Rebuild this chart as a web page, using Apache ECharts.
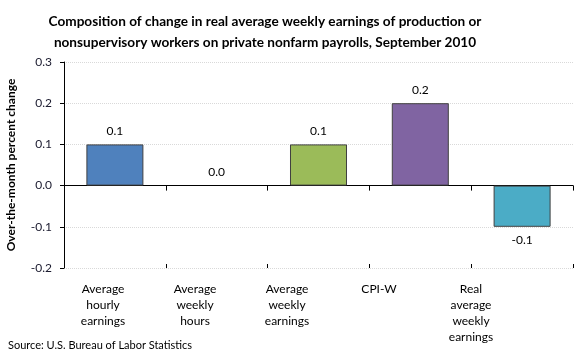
<!DOCTYPE html>
<html><head><meta charset="utf-8">
<script src="https://cdn.jsdelivr.net/npm/echarts@6/dist/echarts.min.js"></script>
<style>html,body{margin:0;padding:0;background:#fff}#c{width:580px;height:360px}</style>
</head><body><div id="c"></div>
<script>
const categories = ["Average\nhourly\nearnings","Average\nweekly\nhours","Average\nweekly\nearnings","CPI-W","Real\naverage\nweekly\nearnings"];
const values = [0.1, 0.0, 0.1, 0.2, -0.1];
const barColors = ["#4F81BD","#4F81BD","#9BBB59","#8064A2","#4BACC6"];
const yTicks = {min: -0.2, max: 0.3, interval: 0.1};
const titleText = "Composition of change in real average weekly earnings of production or\nnonsupervisory workers on private nonfarm payrolls, September 2010";
const yName = "Over-the-month percent change";
const sourceText = "Source: U.S. Bureau of Labor Statistics";

const FONT = "Lato";
const chart = echarts.init(document.getElementById('c'), null, {renderer:'canvas'});
chart.setOption({
  animation:false,
  title:{text:titleText,left:260,top:6,textAlign:'center',
    textStyle:{fontFamily:FONT,fontSize:13.6,fontWeight:'bold',color:'#000',lineHeight:21}},
  graphic:[{type:'text',left:8,top:340,style:{text:sourceText,fontFamily:FONT,fontSize:11,fill:'#000'}}],
  grid:[{left:64,right:7,top:62,bottom:92,outerBoundsMode:'none',containLabel:false},
        {left:57,width:460,top:62,bottom:92,outerBoundsMode:'none',containLabel:false}],
  xAxis:[
    {type:'category',gridIndex:0,data:categories,position:'bottom',
     axisLine:{show:true,onZero:true,lineStyle:{color:'#000',width:1}},
     axisTick:{show:true,length:5,lineStyle:{color:'#000'}},
     axisLabel:{show:false},splitLine:{show:false}},
    {type:'category',gridIndex:0,data:categories,position:'bottom',
     axisLine:{show:false,onZero:true},
     axisTick:{show:true,inside:true,length:4,lineStyle:{color:'#000'}},
     axisLabel:{show:false},splitLine:{show:false}},
    {type:'category',gridIndex:1,data:categories,position:'bottom',
     axisLine:{show:false,onZero:false},axisTick:{show:false},
     axisLabel:{show:true,interval:0,margin:13,fontFamily:FONT,fontSize:12,lineHeight:16,color:'#000',align:'center'}}
  ],
  yAxis:[
    {type:'value',gridIndex:0,min:yTicks.min,max:yTicks.max,interval:yTicks.interval,
     name:yName,nameLocation:'middle',nameRotate:90,nameGap:47,
     nameTextStyle:{fontFamily:FONT,fontSize:12,fontWeight:'bold',color:'#000'},
     axisLine:{show:true,lineStyle:{color:'#000'}},
     axisTick:{show:true,length:4,lineStyle:{color:'#000'}},
     axisLabel:{fontFamily:FONT,fontSize:12,color:'#1a1a2e',margin:12,formatter:v=>v.toFixed(1)},
     splitLine:{show:true,lineStyle:{color:'#d9d9d9',type:'dotted'}}},
    {type:'value',gridIndex:1,show:false,min:yTicks.min,max:yTicks.max}
  ],
  series:[{
    type:'bar',xAxisIndex:0,yAxisIndex:0,barWidth:'56%',
    data:values.map((v,i)=>({value:v,
      itemStyle:{color:barColors[i],borderColor:'#404040',borderWidth:v===0?0:1},
      label:{position:v<0?'bottom':'top'}})),
    label:{show:true,fontFamily:FONT,fontSize:12,color:'#000',distance:7,formatter:p=>p.value.toFixed(1)}
  }]
});
</script></body></html>
